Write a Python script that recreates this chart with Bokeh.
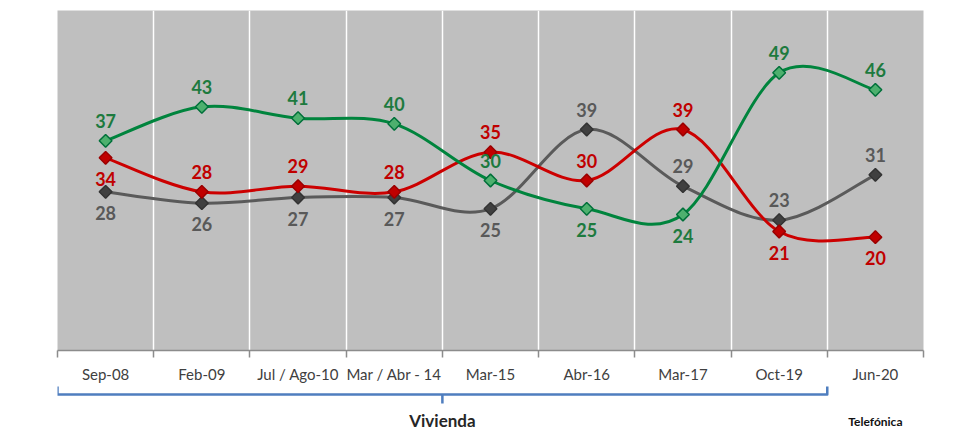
import numpy as np
from bokeh.plotting import figure
from bokeh.models import Range1d, FixedTicker, ColumnDataSource, CustomJSTickFormatter
from bokeh.layouts import column
from bokeh.core.properties import value
from bokeh.embed import file_html
from bokeh.resources import INLINE

# ---------------- data ----------------
categories = ["Sep-08", "Feb-09", "Jul / Ago-10", "Mar / Abr - 14", "Mar-15",
              "Abr-16", "Mar-17", "Oct-19", "Jun-20"]
green_vals = [37, 43, 41, 40, 30, 25, 24, 49, 46]
red_vals = [34, 28, 29, 28, 35, 30, 39, 21, 20]
gray_vals = [28, 26, 27, 27, 25, 39, 29, 23, 31]

# which side of the point each value label sits on
green_side = ["above", "above", "above", "above", "above", "below", "below", "above", "above"]
red_side = ["below", "above", "above", "above", "above", "above", "above", "below", "below"]
gray_side = ["below", "below", "below", "below", "below", "above", "above", "above", "above"]

bracket_first, bracket_last = 0, 7      # categories grouped under "Vivienda"
bracket_label = "Vivienda"
source_label = "Telefónica"

FONT = value("Lato")

xs = np.arange(len(categories)) + 0.5


def bezier_parts(x, y, t=1 / 6):
    x = np.asarray(x, float)
    y = np.asarray(y, float)
    xp = np.concatenate([[x[0]], x, [x[-1]]])
    yp = np.concatenate([[y[0]], y, [y[-1]]])
    n = len(x)
    d = dict(x0=[], y0=[], x1=[], y1=[], cx0=[], cy0=[], cx1=[], cy1=[])
    for i in range(n - 1):
        d["x0"].append(x[i]); d["y0"].append(y[i])
        d["x1"].append(x[i + 1]); d["y1"].append(y[i + 1])
        d["cx0"].append(x[i] + (x[i + 1] - xp[i]) * t)
        d["cy0"].append(y[i] + (y[i + 1] - yp[i]) * t)
        d["cx1"].append(x[i + 1] - (xp[i + 3] - x[i]) * t)
        d["cy1"].append(y[i + 1] - (yp[i + 3] - y[i]) * t)
    return d


p = figure(width=959, height=385, x_range=Range1d(0, len(categories)), y_range=Range1d(0, 60),
           output_backend="svg", toolbar_location=None,
           min_border_left=57, min_border_right=36, min_border_top=10, min_border_bottom=34)
p.background_fill_color = "#BFBFBF"
p.border_fill_color = "white"
p.outline_line_color = None
p.yaxis.visible = False
p.ygrid.visible = False
p.xgrid.ticker = FixedTicker(ticks=list(range(1, len(categories))))
p.xgrid.grid_line_color = "white"
p.xgrid.grid_line_width = 1.5

ax = p.xaxis[0]
ax.ticker = FixedTicker(ticks=list(xs), minor_ticks=list(range(len(categories) + 1)))
ax.formatter = CustomJSTickFormatter(args=dict(labels=categories),
                                     code="const i = Math.floor(tick); return (i >= 0 && i < labels.length) ? labels[i] : '';")
ax.axis_line_color = "#8C8C8C"
ax.axis_line_width = 1.5
ax.major_tick_out = 0
ax.major_tick_in = 0
ax.minor_tick_out = 7
ax.minor_tick_in = 0
ax.minor_tick_line_color = "#8C8C8C"
ax.minor_tick_line_width = 1.5
ax.major_label_text_font = "Lato"
ax.major_label_text_font_size = "15px"
ax.major_label_text_color = "#404040"
ax.major_label_standoff = 7

series = [
    (gray_vals, gray_side, "#5A5A5A", "#404040", "#333333", "#595959"),
    (red_vals, red_side, "#CC0000", "#C00000", "#9A0000", "#C00000"),
    (green_vals, green_side, "#00843D", "#4DB06E", "#00703A", "#1D7A3E"),
]

for vals, side, lc, mfill, mline, tc in series:
    p.bezier(source=ColumnDataSource(bezier_parts(xs, vals)), x0="x0", y0="y0", x1="x1", y1="y1",
             cx0="cx0", cy0="cy0", cx1="cx1", cy1="cy1", line_color=lc, line_width=3)

for vals, side, lc, mfill, mline, tc in series:
    p.scatter(xs, vals, marker="square", angle=np.pi / 4, size=9,
              fill_color=mfill, line_color=mline, line_width=1.5)
    src = ColumnDataSource(dict(x=xs, y=vals, t=[str(v) for v in vals],
                                off=[-20 if s == "above" else 21 for s in side]))
    p.text(x="x", y="y", text="t", y_offset="off", source=src, text_align="center",
           text_baseline="middle", text_font=FONT, text_font_style="bold",
           text_font_size="18px", text_color=tc)

# ---------------- bracket strip ----------------
p2 = figure(width=959, height=45, x_range=p.x_range, y_range=Range1d(0, 45),
            output_backend="svg", toolbar_location=None,
            min_border_left=57, min_border_right=36, min_border_top=0, min_border_bottom=0)
p2.axis.visible = False
p2.grid.visible = False
p2.outline_line_color = None
p2.background_fill_color = "white"
p2.border_fill_color = "white"

bx0 = bracket_first
bx1 = bracket_last + 1
bmid = (bx0 + bx1) / 2
p2.line([bx0, bx0, bx1, bx1], [44, 36, 36, 44], line_color="#4F7EBF", line_width=2.5,
        line_join="round")
p2.segment(x0=[bmid], y0=[36], x1=[bmid], y1=[27], line_color="#4F7EBF", line_width=2.5)
p2.text(x=[bmid], y=[10], text=[bracket_label], text_align="center", text_baseline="middle",
        text_font=FONT, text_font_style="bold", text_font_size="17px", text_color="#262626")
p2.text(x=[len(categories) - 0.5], y=[9], text=[source_label], text_align="center",
        text_baseline="middle", text_font=FONT, text_font_style="bold",
        text_font_size="12px", text_color="#111111")

layout = column(p, p2, spacing=0)
open("out.html", "w").write(file_html(layout, INLINE))
